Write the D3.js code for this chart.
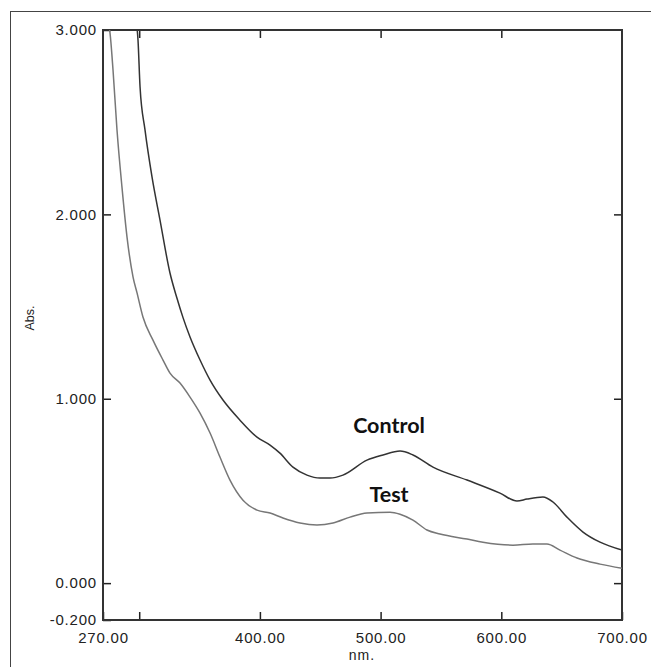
<!DOCTYPE html>
<html>
<head>
<meta charset="utf-8">
<script src="https://cdn.jsdelivr.net/npm/d3@7"></script>
<style>
  body { margin: 0; background: #fff; }
  svg { display: block; }
</style>
</head>
<body>
<div id="container"></div>
<script>
// data (nm, Abs.)
let controlNm  = [297.5, 299.0, 300.7, 304.8, 310.6, 317.2, 325.5, 331.3, 336.3, 342.1, 350.4, 358.7, 369.4, 383.5, 397.6, 408.4, 416.6, 427.4, 439.0, 449.8, 458.1, 468.8, 488.7, 502.0, 516.1, 526.8, 543.4, 571.6, 598.9, 613.0, 621.3, 634.5, 642.8, 654.4, 667.7, 681.8, 700.0];
let controlAbs = [3.05, 2.946, 2.691, 2.458, 2.203, 1.970, 1.682, 1.545, 1.440, 1.335, 1.210, 1.101, 0.993, 0.884, 0.792, 0.749, 0.705, 0.629, 0.586, 0.570, 0.570, 0.586, 0.667, 0.695, 0.716, 0.695, 0.629, 0.559, 0.488, 0.445, 0.456, 0.467, 0.440, 0.358, 0.277, 0.222, 0.179];

let testNm  = [274.0, 275.8, 278.3, 281.6, 285.7, 289.9, 294.9, 298.2, 303.1, 311.4, 319.7, 325.5, 333.8, 342.1, 350.4, 358.7, 366.9, 375.2, 386.0, 397.6, 408.4, 419.1, 433.2, 447.3, 460.6, 474.7, 488.7, 507.8, 516.1, 526.8, 538.4, 549.2, 571.6, 584.8, 609.7, 626.2, 637.8, 648.6, 662.7, 681.8, 700.0];
let testAbs = [3.05, 2.984, 2.783, 2.458, 2.149, 1.877, 1.660, 1.574, 1.443, 1.318, 1.210, 1.139, 1.085, 1.009, 0.922, 0.814, 0.684, 0.559, 0.450, 0.396, 0.380, 0.353, 0.326, 0.315, 0.326, 0.358, 0.380, 0.385, 0.374, 0.342, 0.288, 0.266, 0.239, 0.222, 0.206, 0.212, 0.212, 0.179, 0.136, 0.103, 0.081];

let xTicks = [270, 300, 400, 500, 600, 700];
let xTopTicks = [300, 400, 500, 600];
let yTicks = [-0.2, 0, 1, 2, 3];
let yRightTicks = [0, 1, 2];

let control = controlNm.map((d, i) => [d, controlAbs[i]]);
let test = testNm.map((d, i) => [d, testAbs[i]]);

//画布
let width = 651, height = 667;
let svg = d3.select("#container")
    .append("svg")
    .attr("width", width)
    .attr("height", height);

// outer frame
svg.append("rect")
    .attr("x", 10.5).attr("y", 11.5)
    .attr("width", 700).attr("height", 700)
    .attr("fill", "none")
    .attr("stroke", "#444")
    .attr("stroke-width", 1);

let pLeft = 103, pRight = 622, pTop = 30, pBottom = 620;

//比例尺
let xScale = d3.scaleLinear().domain([270, 700]).range([pLeft, pRight]);
let yScale = d3.scaleLinear().domain([-0.2, 3]).range([pBottom, pTop]);

let fontFam = "'Liberation Sans', Arial, sans-serif";

//坐标轴
let xAxis = d3.axisBottom(xScale)
    .tickValues(xTicks)
    .tickSizeInner(-8).tickSizeOuter(0)
    .tickPadding(12)
    .tickFormat(d => d === 300 ? "" : d3.format(".2f")(d));
let xg = svg.append("g")
    .attr("transform", "translate(0," + pBottom + ")")
    .call(xAxis);

let xTop = d3.axisTop(xScale)
    .tickValues(xTopTicks)
    .tickSizeInner(-8).tickSizeOuter(0)
    .tickFormat("");
let xtg = svg.append("g")
    .attr("transform", "translate(0," + pTop + ")")
    .call(xTop);

let yAxis = d3.axisLeft(yScale)
    .tickValues(yTicks)
    .tickSizeInner(-8).tickSizeOuter(0)
    .tickPadding(6)
    .tickFormat(d => d3.format(".3f")(d).replace("\u2212", "-"));
let yg = svg.append("g")
    .attr("transform", "translate(" + pLeft + ",0)")
    .call(yAxis);

let yRight = d3.axisRight(yScale)
    .tickValues(yRightTicks)
    .tickSizeInner(-8).tickSizeOuter(0)
    .tickFormat("");
let yrg = svg.append("g")
    .attr("transform", "translate(" + pRight + ",0)")
    .call(yRight);

[xg, xtg, yg, yrg].forEach(g => {
    g.select(".domain").remove();
    g.selectAll(".tick line").attr("stroke", "#222").attr("stroke-width", 1.5);
    g.selectAll(".tick text")
        .attr("fill", "#222")
        .style("font-family", fontFam)
        .style("font-size", "15px")
        .style("letter-spacing", "0.8px");
});

// plot border
svg.append("rect")
    .attr("x", pLeft).attr("y", pTop)
    .attr("width", pRight - pLeft).attr("height", pBottom - pTop)
    .attr("fill", "none")
    .attr("stroke", "#333")
    .attr("stroke-width", 2);

// axis titles
svg.append("text")
    .attr("transform", "translate(34," + 318 + ") rotate(-90)")
    .attr("text-anchor", "middle")
    .style("font-family", fontFam)
    .style("font-size", "12.5px")
    .attr("fill", "#222")
    .text("Abs.");

svg.append("text")
    .attr("x", 362).attr("y", 660)
    .attr("text-anchor", "middle")
    .style("font-family", fontFam)
    .style("font-size", "14px")
    .style("letter-spacing", "1px")
    .attr("fill", "#222")
    .text("nm.");

// curves
svg.append("clipPath").attr("id", "clip")
    .append("rect")
    .attr("x", pLeft).attr("y", pTop)
    .attr("width", pRight - pLeft).attr("height", pBottom - pTop);

let line = d3.line()
    .curve(d3.curveMonotoneX)
    .x(d => xScale(d[0]))
    .y(d => yScale(d[1]));

svg.append("path")
    .datum(test)
    .attr("clip-path", "url(#clip)")
    .attr("fill", "none")
    .attr("stroke", "#777")
    .attr("stroke-width", 1.5)
    .attr("d", line);

svg.append("path")
    .datum(control)
    .attr("clip-path", "url(#clip)")
    .attr("fill", "none")
    .attr("stroke", "#333")
    .attr("stroke-width", 1.5)
    .attr("d", line);

// labels on curves
svg.append("text")
    .attr("x", 389).attr("y", 433)
    .attr("text-anchor", "middle")
    .style("font-family", "Lato, 'Open Sans', sans-serif")
    .style("font-weight", "bold")
    .style("font-size", "21.5px")
    .attr("fill", "#111")
    .text("Control");

svg.append("text")
    .attr("x", 389).attr("y", 502)
    .attr("text-anchor", "middle")
    .style("font-family", "Lato, 'Open Sans', sans-serif")
    .style("font-weight", "bold")
    .style("font-size", "21.5px")
    .attr("fill", "#111")
    .text("Test");
</script>
</body>
</html>
